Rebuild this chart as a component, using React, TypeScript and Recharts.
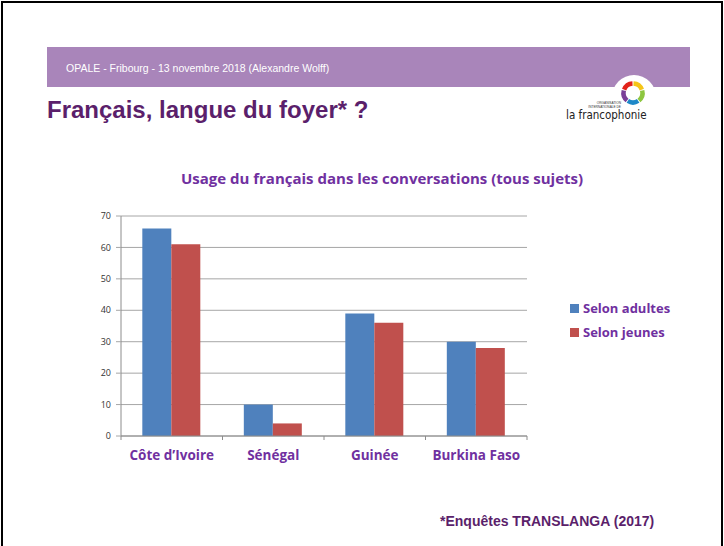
import React from 'react';
import { BarChart, Bar, XAxis, YAxis, CartesianGrid } from 'recharts';

const countries = ['Côte d’Ivoire', 'Sénégal', 'Guinée', 'Burkina Faso'];
const adultes = [66, 10, 39, 30];
const jeunes = [61, 4, 36, 28];
const yTicks = [0, 10, 20, 30, 40, 50, 60, 70];

const data = countries.map((name, i) => ({ name, adultes: adultes[i], jeunes: jeunes[i] }));

const BLUE = '#4f81bd';
const RED = '#c0504d';
const PURPLE = '#7030a0';
const DARK = '#5b1f6b';
const BODY = "'Open Sans', 'Noto Sans', sans-serif";

function CountryTick(props: any) {
  const { x, y, payload, index } = props;
  const half = payload && payload.offset ? payload.offset : 50.75;
  return (
    <g>
      <line x1={x - half} y1={y - 8} x2={x - half} y2={y - 4} stroke="#8c8c8c" />
      {index === countries.length - 1 && (
        <line x1={x + half} y1={y - 8} x2={x + half} y2={y - 4} stroke="#8c8c8c" />
      )}
      <text x={x} y={y + 16} textAnchor="middle" fill={PURPLE} fontSize={13.5} fontWeight="bold" fontFamily={BODY}>
        {payload.value}
      </text>
    </g>
  );
}

function Logo() {
  const cx = 633, cy = 93, r = 9.5;
  const colors = ['#f5c518', '#8dc63f', '#1e88c8', '#7b3f98', '#e2231a'];
  const arcs = colors.map((c, i) => {
    const a0 = (-90 + i * 72 + 3) * Math.PI / 180;
    const a1 = (-90 + (i + 1) * 72 - 3) * Math.PI / 180;
    const d = `M ${cx + r * Math.cos(a0)} ${cy + r * Math.sin(a0)} A ${r} ${r} 0 0 1 ${cx + r * Math.cos(a1)} ${cy + r * Math.sin(a1)}`;
    return <path key={i} d={d} stroke={c} strokeWidth={4.5} fill="none" />;
  });
  return (
    <svg width={724} height={546} style={{ position: 'absolute', left: 0, top: 0, pointerEvents: 'none' }}>
      <circle cx={634} cy={97} r={22} fill="#fff" />
      {arcs}
      <text x={621} y={104} textAnchor="end" fontSize={3.2} fill="#333" fontFamily="Arial">ORGANISATION</text>
      <text x={621} y={108} textAnchor="end" fontSize={3.2} fill="#333" fontFamily="Arial">INTERNATIONALE DE</text>
      <text x={566} y={119} fontSize={11.5} fill="#222" fontFamily="'DejaVu Sans Condensed', 'Liberation Sans Narrow', sans-serif">la francophonie</text>
    </svg>
  );
}

export default function App() {
  return (
    <div style={{ position: 'absolute', left: 0, top: 0, width: 724, height: 546, background: '#fff', overflow: 'hidden' }}>
      <div style={{ position: 'absolute', left: 1, top: 1, width: 718, height: 560, border: '2px solid #000' }} />
      <div style={{ position: 'absolute', left: 47, top: 47, width: 643, height: 40, background: '#a985ba' }} />
      <div style={{ position: 'absolute', left: 66, top: 62, fontFamily: "'Liberation Sans', Arial", fontSize: 10.5, color: '#fff' }}>
        OPALE - Fribourg - 13 novembre 2018 (Alexandre Wolff)
      </div>
      <Logo />
      <div style={{ position: 'absolute', left: 47, top: 96, fontFamily: "'Liberation Sans', Arial", fontSize: 24, fontWeight: 'bold', color: DARK }}>
        Français, langue du foyer* ?
      </div>
      <div style={{ position: 'absolute', left: 0, width: 764, top: 168, textAlign: 'center', fontFamily: BODY, fontSize: 15, fontWeight: 'bold', color: PURPLE }}>
        Usage du français dans les conversations (tous sujets)
      </div>

      <div style={{ position: 'absolute', left: 0, top: 0 }}>
        <BarChart
          width={724}
          height={546}
          data={data}
          margin={{ top: 216, right: 197, bottom: 80, left: 91 }}
          barCategoryGap="21%"
          barGap={0}
        >
          <CartesianGrid vertical={false} stroke="#a6a6a6" />
          <XAxis
            dataKey="name"
            height={30}
            axisLine={{ stroke: '#8c8c8c' }}
            tickLine={false}
            tick={<CountryTick />}
            interval={0}
          />
          <YAxis
            width={30}
            domain={[0, 70]}
            ticks={yTicks}
            interval={0}
            axisLine={{ stroke: '#8c8c8c' }}
            tickLine={{ stroke: '#a6a6a6' }}
            tickSize={5}
            tickMargin={5}
            tick={{ fontSize: 9, fill: '#333', fontFamily: BODY }}
          />
          <Bar dataKey="adultes" fill={BLUE} isAnimationActive={false} />
          <Bar dataKey="jeunes" fill={RED} isAnimationActive={false} />
        </BarChart>
      </div>

      <div style={{ position: 'absolute', left: 570, top: 296, fontFamily: BODY, fontSize: 13, fontWeight: 'bold', color: PURPLE }}>
        {[['Selon adultes', BLUE], ['Selon jeunes', RED]].map(([label, c]) => (
          <div key={label} style={{ display: 'flex', alignItems: 'center', height: 24 }}>
            <span style={{ display: 'inline-block', width: 9, height: 9, background: c, marginRight: 4 }} />
            {label}
          </div>
        ))}
      </div>

      <div style={{ position: 'absolute', left: 440, top: 513, fontFamily: "'Liberation Sans', Arial", fontSize: 14, fontWeight: 'bold', color: DARK }}>
        *Enquêtes TRANSLANGA (2017)
      </div>
    </div>
  );
}
